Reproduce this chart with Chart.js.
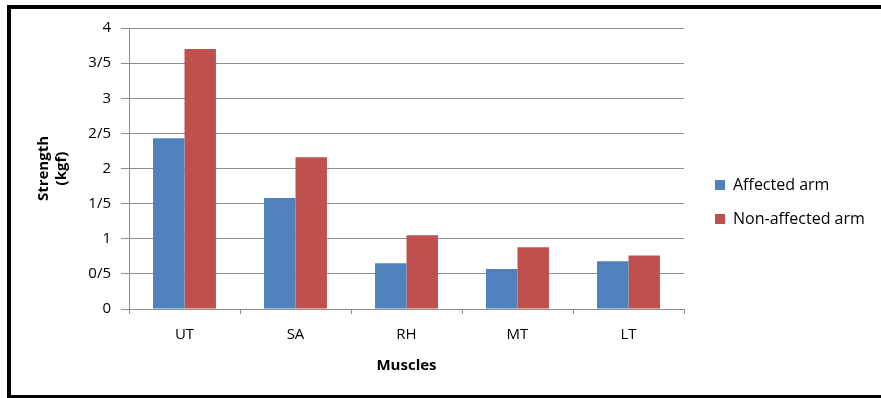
<!DOCTYPE html>
<html>
<head>
<meta charset="utf-8">
<script src="https://cdn.jsdelivr.net/npm/chart.js@4.4.1/dist/chart.umd.min.js"></script>
<style>
  html, body { margin: 0; padding: 0; background: #fff; overflow: hidden; }
  #wrap { position: relative; width: 881px; height: 398px; }
  #frame {
    position: absolute; left: 7px; top: 5px; width: 900px; height: 393px;
    box-sizing: border-box; pointer-events: none;
    border-left: 4px solid #000; border-top: 4px solid #000; border-bottom: 3px solid #000;
  }
</style>
</head>
<body>
<div id="wrap">
  <canvas id="chart"></canvas>
  <div id="frame"></div>
</div>
<script>
// Muscle strength (kgf) per muscle group, affected vs non-affected arm
const muscles = ['UT', 'SA', 'RH', 'MT', 'LT'];
const affectedArm = [2.43, 1.58, 0.65, 0.57, 0.68];
const nonAffectedArm = [3.70, 2.16, 1.05, 0.88, 0.76];
const seriesNames = ['Affected arm', 'Non-affected arm'];
// y tick labels use "/" as the decimal separator
const strengthTicks = ['0', '0/5', '1', '1/5', '2', '2/5', '3', '3/5', '4'];

const GRID = '#8e8e8e';
Chart.defaults.font.family = "'Open Sans', sans-serif";
Chart.defaults.color = '#000';

// keep the legend column a fixed width so the plot area ends where it should
const fixedLegendWidth = {
  id: 'fixedLegendWidth',
  beforeInit(chart) {
    const lg = chart.legend;
    if (!lg) return;
    const fit = lg.fit;
    lg.fit = function () { fit.call(this); this.width = 184; };
  }
};

new Chart(document.getElementById('chart'), {
  type: 'bar',
  data: {
    labels: muscles,
    datasets: [
      { label: seriesNames[0], data: affectedArm, backgroundColor: '#4F81BD', borderWidth: 0 },
      { label: seriesNames[1], data: nonAffectedArm, backgroundColor: '#C0504D', borderWidth: 0 }
    ]
  },
  options: {
    responsive: true,
    maintainAspectRatio: false,
    animation: false,
    layout: { padding: { top: 28, right: 0, bottom: 22, left: 0 } },
    datasets: { bar: { categoryPercentage: 0.567, barPercentage: 1.0 } },
    scales: {
      x: {
        grid: { display: true, drawOnChartArea: false, drawTicks: true, tickLength: 5, color: GRID },
        border: { color: GRID },
        ticks: { font: { size: 15 }, color: '#000', padding: 12 },
        title: { display: true, text: 'Muscles', font: { size: 15, weight: 'bold' }, color: '#000', padding: { top: 0, bottom: 1 } },
        afterFit(scale) { scale.height = 67; }
      },
      y: {
        min: 0, max: 4,
        ticks: {
          stepSize: 0.5,
          font: { size: 15 }, color: '#000', padding: 10,
          callback: (value, index) => strengthTicks[index]
        },
        grid: { color: GRID, tickLength: 8 },
        border: { color: GRID },
        title: { display: true, text: ['Strength', '(kgf)'], font: { size: 15, weight: 'bold' }, color: '#000', padding: { top: 35, bottom: 0 } },
        afterFit(scale) { scale.width = 129; }
      },
      gap: {
        type: 'linear', position: 'right', display: true,
        grid: { display: false }, ticks: { display: false }, border: { display: false },
        afterFit(scale) { scale.width = 13; }
      }
    },
    plugins: {
      legend: {
        position: 'right', align: 'center',
        labels: { boxWidth: 10, boxHeight: 10, padding: 18, font: { size: 16 }, color: '#000' }
      },
      tooltip: { enabled: false }
    }
  },
  plugins: [fixedLegendWidth]
});
</script>
</body>
</html>
